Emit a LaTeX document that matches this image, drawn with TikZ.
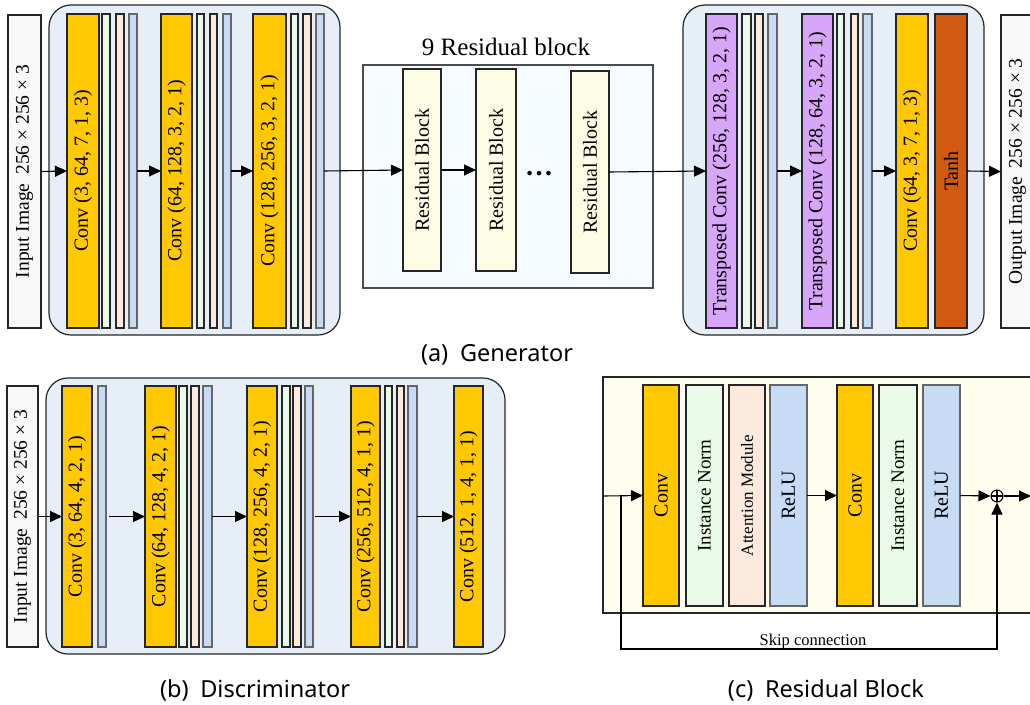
\documentclass[tikz,border=0pt]{standalone}
\usepackage{fontspec}
\usepackage{graphicx}
\setmainfont{Liberation Serif}
\newfontfamily\capfont{Noto Sans}
\usetikzlibrary{arrows.meta}
\definecolor{convc}{HTML}{FFC800}
\definecolor{gbarc}{HTML}{EAFBEA}
\definecolor{pbarc}{HTML}{FBEADD}
\definecolor{bbarc}{HTML}{C7DBF5}
\definecolor{tconvc}{HTML}{D7A6F8}
\definecolor{tanhc}{HTML}{D05A10}
\definecolor{contc}{HTML}{E6EFF8}
\definecolor{resc}{HTML}{F5FBFF}
\definecolor{rblkc}{HTML}{FDFDE6}
\definecolor{rdetc}{HTML}{FFFEEE}
\definecolor{inc}{HTML}{F8F8F8}
\newcommand\bx[7]{\node[#6, minimum width={(#4-#2)*1pt}, minimum height={(#5-#3)*1pt}] (#1) at ({(#2+#4)/2},{(#3+#5)/2}) {#7};}
\newcommand\rot[1]{\rotatebox{90}{#1}}
\begin{document}
\begin{tikzpicture}[x=1pt,y=-1pt,
  box/.style={draw=black!85, line width=1.2pt, inner sep=0pt, outer sep=0pt, font=\fontsize{20}{20}\selectfont},
  conv/.style={box, fill=convc},
  gbar/.style={box, fill=gbarc},
  pbar/.style={box, fill=pbarc},
  bbar/.style={box, draw=black!60, fill=bbarc},
  tconv/.style={box, fill=tconvc},
  tanhbox/.style={box, fill=tanhc},
  inbox/.style={box, fill=inc, font=\fontsize{19.5}{19.5}\selectfont},
  cont/.style={draw=black!85, line width=1.2pt, fill=contc, rounded corners=22pt, inner sep=0pt},
  resbox/.style={draw=black!70, line width=1.2pt, fill=resc, inner sep=0pt},
  rblk/.style={box, fill=rblkc},
  rdet/.style={draw=black!85, line width=1.4pt, fill=rdetc, inner sep=0pt},
  arr/.style={line width=1.1pt, -{Triangle[length=12pt,width=11pt]}},
  captext/.style={font=\capfont\fontsize{23.5}{23.5}\selectfont}
]
\useasboundingbox (0,0) rectangle (1030,704);
\clip (0,0) rectangle (1030,704);
\fill[white] (0,0) rectangle (1030,704);

% ---------------- Generator ----------------
\bx{gin}{8}{15}{41}{328}{inbox}{\rot{Input Image\hspace{0.45em}256 × 256 × 3}}
\bx{gL}{49}{5}{340}{335}{cont}{}
\bx{gc1}{67}{14}{99}{328}{conv}{\rot{Conv (3, 64, 7, 1, 3)}}
\bx{gc1a}{102}{14}{110}{328}{gbar}{}
\bx{gc1b}{116}{14}{124}{328}{pbar}{}
\bx{gc1c}{129}{14}{137}{328}{bbar}{}
\bx{gc2}{161}{14}{192}{328}{conv}{\rot{Conv (64, 128, 3, 2, 1)}}
\bx{gc2a}{197}{14}{204}{328}{gbar}{}
\bx{gc2b}{210}{14}{217}{328}{pbar}{}
\bx{gc2c}{223}{14}{231}{328}{bbar}{}
\bx{gc3}{253}{14}{286}{328}{conv}{\rot{Conv (128, 256, 3, 2, 1)}}
\bx{gc3a}{291}{14}{298}{328}{gbar}{}
\bx{gc3b}{303}{14}{311}{328}{pbar}{}
\bx{gc3c}{316}{14}{324}{328}{bbar}{}

\node[font=\fontsize{25}{25}\selectfont, inner sep=0pt] (rtitle) at (506,47) {9 Residual block};
\bx{rbox}{363}{65}{653}{288}{resbox}{}
\bx{rb1}{403}{69}{441}{271}{rblk}{\rot{Residual Block}}
\bx{rb2}{476}{69}{516}{271}{rblk}{\rot{Residual Block}}
\bx{rb3}{571}{71}{609}{273}{rblk}{\rot{Residual Block}}
\node[font=\fontsize{28}{28}\selectfont\bfseries, inner sep=0pt] (dots) at (539,174) {…};

\bx{gR}{683}{5}{984}{335}{cont}{}
\bx{gt1}{706}{14}{737}{328}{tconv}{\rot{Transposed Conv (256, 128, 3, 2, 1)}}
\bx{gt1a}{742}{14}{751}{328}{gbar}{}
\bx{gt1b}{755}{14}{763}{328}{pbar}{}
\bx{gt1c}{768}{14}{777}{328}{bbar}{}
\bx{gt2}{802}{14}{833}{328}{tconv}{\rot{Transposed Conv (128, 64, 3, 2, 1)}}
\bx{gt2a}{837}{14}{844}{328}{gbar}{}
\bx{gt2b}{851}{14}{858}{328}{pbar}{}
\bx{gt2c}{863}{14}{872}{328}{bbar}{}
\bx{gc4}{896}{14}{928}{328}{conv}{\rot{Conv (64, 3, 7, 1, 3)}}
\bx{gtanh}{935}{14}{967}{328}{tanhbox}{\rot{Tanh}}
\bx{gout}{1001}{15}{1034}{328}{inbox}{\rot{Output Image\hspace{0.45em}256 × 256 × 3}}

\draw[arr] (gin.east) -- (gc1.west);
\draw[arr] (gc1c.east) -- (gc2.west);
\draw[arr] (gc2c.east) -- (gc3.west);
\draw[arr] (gc3c.east) -- (rb1.west);
\draw[arr] (rb1.east) -- (rb2.west);
\draw[arr] (rb3.east) -- (gt1.west);
\draw[arr] (gt1c.east) -- (gt2.west);
\draw[arr] (gt2c.east) -- (gc4.west);
\draw[arr] (gtanh.east) -- (gout.west);

\node[captext, inner sep=0pt] (capa) at (497,355) {(a)\hspace{0.5em}Generator};

% ---------------- Discriminator ----------------
\bx{din}{7}{386}{38}{647}{inbox}{\rot{Input Image\hspace{0.45em}256 × 256 × 3}}
\bx{dC}{46}{378}{505}{654}{cont}{}
\bx{d1}{62}{386}{92}{647}{conv}{\rot{Conv (3, 64, 4, 2, 1)}}
\bx{d1c}{98}{386}{106}{647}{bbar}{}
\bx{d2}{145}{386}{176}{647}{conv}{\rot{Conv (64, 128, 4, 2, 1)}}
\bx{d2a}{179}{386}{187}{647}{gbar}{}
\bx{d2b}{191}{386}{199}{647}{pbar}{}
\bx{d2c}{203}{386}{212}{647}{bbar}{}
\bx{d3}{247}{386}{277}{647}{conv}{\rot{Conv (128, 256, 4, 2, 1)}}
\bx{d3a}{282}{386}{290}{647}{gbar}{}
\bx{d3b}{293}{386}{301}{647}{pbar}{}
\bx{d3c}{305}{386}{313}{647}{bbar}{}
\bx{d4}{351}{386}{380}{647}{conv}{\rot{Conv (256, 512, 4, 1, 1)}}
\bx{d4a}{385}{386}{392}{647}{gbar}{}
\bx{d4b}{397}{386}{404}{647}{pbar}{}
\bx{d4c}{408}{386}{417}{647}{bbar}{}
\bx{d5}{454}{386}{483}{647}{conv}{\rot{Conv (512, 1, 4, 1, 1)}}

\draw[arr] (din.east) -- (d1.west);
\draw[arr] ([xshift=3pt]d1c.east) -- (d2.west);
\draw[arr] (d2c.east) -- (d3.west);
\draw[arr] ([xshift=2pt]d3c.east) -- (d4.west);
\draw[arr] (d4c.east) -- (d5.west);

\node[captext, inner sep=0pt] (capb) at (255,690) {(b)\hspace{0.5em}Discriminator};

% ---------------- Residual Block ----------------
\bx{rC}{603}{377}{1045}{613}{rdet}{}
\bx{rc1}{643}{385}{679}{606}{conv}{\rot{Conv}}
\bx{rn1}{686}{385}{723}{606}{gbar}{\rot{\fontsize{19}{19}\selectfont Instance Norm}}
\bx{ra1}{729}{385}{765}{606}{pbar}{\rot{\fontsize{17}{17}\selectfont Attention Module}}
\bx{rr1}{770}{385}{807}{606}{bbar}{\rot{ReLU}}
\bx{rc2}{837}{385}{873}{606}{conv}{\rot{Conv}}
\bx{rn2}{879}{385}{917}{606}{gbar}{\rot{\fontsize{19}{19}\selectfont Instance Norm}}
\bx{rr2}{923}{385}{960}{606}{bbar}{\rot{ReLU}}
\node[draw, circle, line width=1.1pt, fill=white, minimum size=12pt, inner sep=0pt,
  path picture={\draw[line width=1.1pt] (path picture bounding box.north) -- (path picture bounding box.south)
    (path picture bounding box.west) -- (path picture bounding box.east);}] (plus) at (997,496) {};
\coordinate (rin) at (603,496);
\coordinate (rsk) at (621,496);
\coordinate (rout) at (1031,496);
\draw[arr] (rin) -- (rc1.west);
\draw[arr] (rr1.east) -- (rc2.west);
\draw[arr] (rr2.east) -- (plus.west);
\draw[arr] (plus.east) -- (rout);
\draw[arr] (rsk) -- ++(0,153) -| (plus.south);
\node[font=\fontsize{16.5}{16.5}\selectfont, inner sep=0pt, anchor=base] (skip) at (813,645) {Skip connection};

\node[captext, inner sep=0pt] (capc) at (826,690) {(c)\hspace{0.5em}Residual Block};
\end{tikzpicture}
\end{document}
